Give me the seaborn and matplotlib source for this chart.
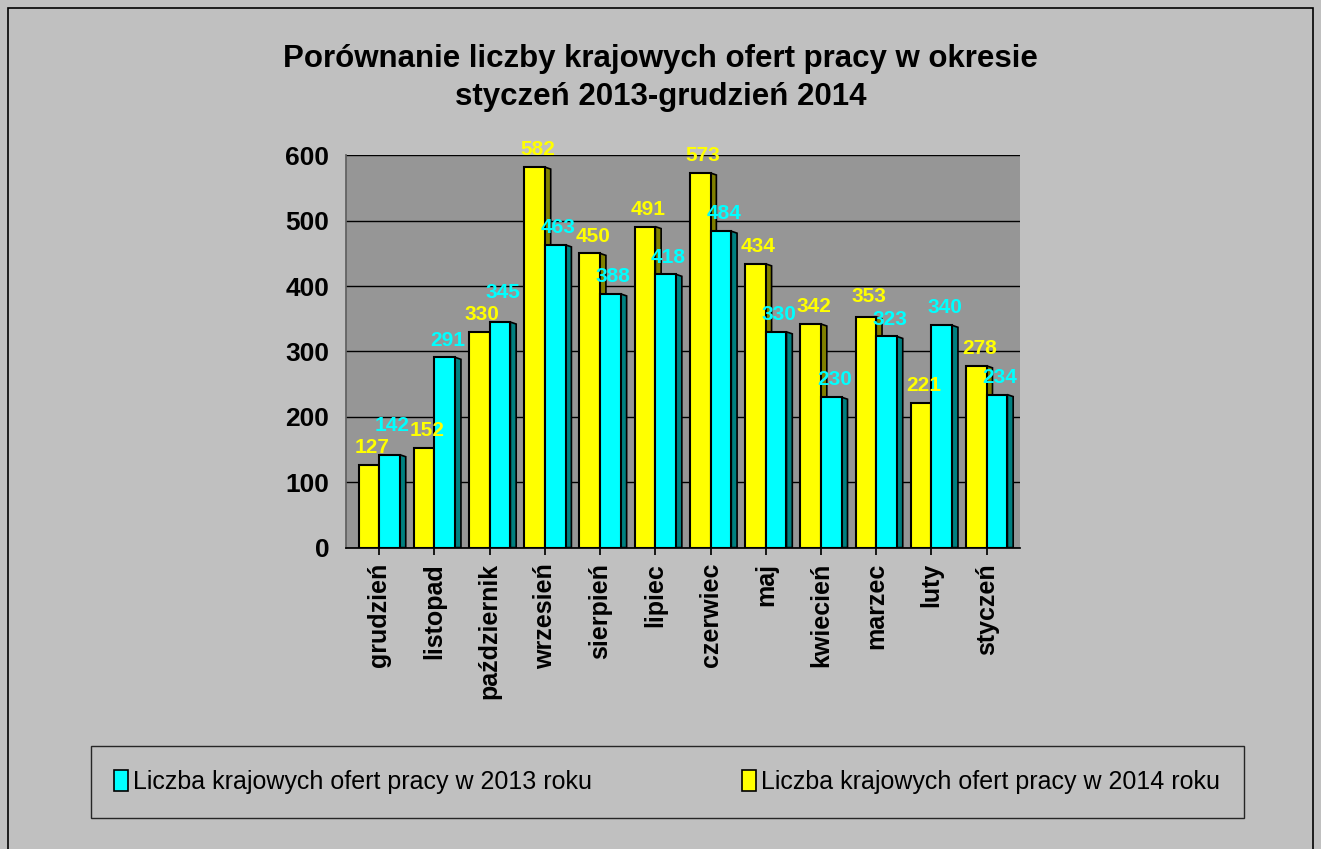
import matplotlib
matplotlib.use("Agg")
import matplotlib.pyplot as plt
import seaborn as sns
import pandas as pd
from matplotlib.patches import Patch, Polygon, Rectangle

months = ["grudzień", "listopad", "październik", "wrzesień", "sierpień", "lipiec",
          "czerwiec", "maj", "kwiecień", "marzec", "luty", "styczeń"]
values_2013 = [142, 291, 345, 463, 388, 418, 484, 330, 230, 323, 340, 234]
values_2014 = [127, 152, 330, 582, 450, 491, 573, 434, 342, 353, 221, 278]
series_labels = ["Liczba krajowych ofert pracy w 2013 roku",
                 "Liczba krajowych ofert pracy w 2014 roku"]
title = "Porównanie liczby krajowych ofert pracy w okresie\nstyczeń 2013-grudzień 2014"
yticks = [0, 100, 200, 300, 400, 500, 600]

CYAN = "#00FFFF"
YELLOW = "#FFFF00"
CYAN_DARK = "#008080"
YELLOW_DARK = "#808000"

df = pd.DataFrame({
    "miesiac": months * 2,
    "seria": ["2014"] * len(months) + ["2013"] * len(months),
    "wartosc": values_2014 + values_2013,
})

sns.set_theme(style="white")
plt.rcParams["font.family"] = ["Liberation Sans", "DejaVu Sans"]
plt.rcParams["text.color"] = "black"
plt.rcParams["xtick.color"] = "black"
plt.rcParams["ytick.color"] = "black"

fig = plt.figure(figsize=(13.21, 8.49), dpi=100)
fig.patch.set_facecolor("#C0C0C0")
fig.add_artist(Rectangle((0.006, -0.01), 0.988, 1.0, transform=fig.transFigure,
                         fill=False, edgecolor="black", linewidth=1.2))

ax = fig.add_axes([0.262, 0.355, 0.51, 0.462])
ax.set_facecolor("#969696")

sns.barplot(data=df, x="miesiac", y="wartosc", hue="seria", hue_order=["2014", "2013"],
            palette=[YELLOW, CYAN], order=months, width=0.75, edgecolor="black",
            linewidth=1.5, saturation=1, ax=ax, legend=False, zorder=3)

ax.set_ylim(0, 600)
ax.set_xlim(-0.6, len(months) - 0.4)
ax.set_yticks(yticks)
ax.set_yticklabels([str(t) for t in yticks], fontsize=19, fontweight="bold")
ax.tick_params(axis="y", length=0, pad=12)
ax.tick_params(axis="x", length=5, direction="out", bottom=True, color="black", pad=6)
ax.set_xticklabels(months, rotation=90, fontsize=18, fontweight="bold")
ax.set_xlabel("")
ax.set_ylabel("")
ax.grid(axis="y", color="black", linewidth=1.0, zorder=0)
for side in ["top", "right"]:
    ax.spines[side].set_visible(False)
ax.spines["left"].set_color("#606060")
ax.spines["bottom"].set_color("black")

# side faces for a 3D-like look
containers = ax.containers
dark_cols = [YELLOW_DARK, CYAN_DARK]
for ci, cont in enumerate(containers):
    for bar in cont:
        x0 = bar.get_x()
        w = bar.get_width()
        h = bar.get_height()
        d = w * 0.28
        side = Polygon([[x0 + w, 0], [x0 + w + d, 0], [x0 + w + d, h - 3], [x0 + w, h]],
                       closed=True, facecolor=dark_cols[ci], edgecolor="black",
                       linewidth=1.2, zorder=2.9)
        ax.add_patch(side)

# data labels, stacked when close
min_gap = 34
for b_y, b_c in zip(containers[0], containers[1]):
    hy, hc = b_y.get_height(), b_c.get_height()
    ly, lc = hy + 12, hc + 12
    if abs(ly - lc) < min_gap:
        if ly >= lc:
            ly = lc + min_gap
        else:
            lc = ly + min_gap
    for bar, lab_y, col in [(b_y, ly, YELLOW), (b_c, lc, CYAN)]:
        x0, w = bar.get_x(), bar.get_width()
        ax.text(x0 + w * 0.64, lab_y, f"{int(round(bar.get_height()))}", ha="center",
                va="bottom", color=col, fontsize=15, fontweight="bold", zorder=4,
                clip_on=False)

fig.text(0.5, 0.948, title, ha="center", va="top", fontsize=22.5, fontweight="bold",
         linespacing=1.35)

handles = [Patch(facecolor=CYAN, edgecolor="black", linewidth=1.2),
           Patch(facecolor=YELLOW, edgecolor="black", linewidth=1.2)]
leg = fig.legend(handles, series_labels, loc="center", bbox_to_anchor=(0.505, 0.079),
                 ncol=2, frameon=True, fancybox=False, handlelength=0.55,
                 handleheight=0.9, handletextpad=0.2, columnspacing=6.0,
                 borderpad=0.95, borderaxespad=0,
                 prop={"family": ["Liberation Sans"], "size": 18})
leg.get_frame().set_facecolor("#C0C0C0")
leg.get_frame().set_edgecolor("black")
leg.get_frame().set_linewidth(1.0)

fig.savefig("out.png", dpi=100, facecolor=fig.get_facecolor())
